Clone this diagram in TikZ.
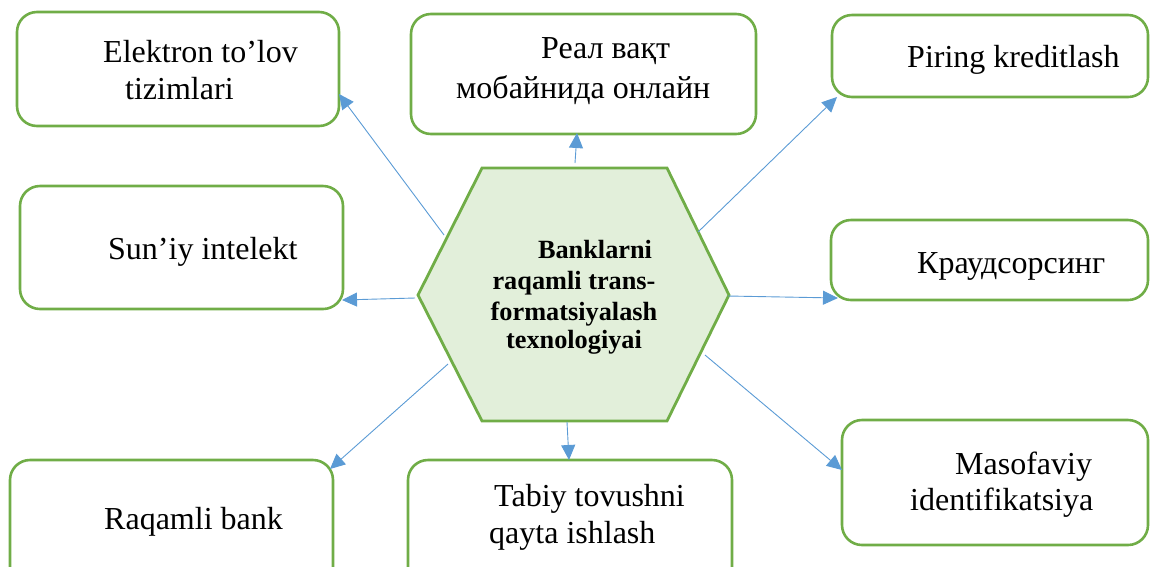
\documentclass[tikz,border=0pt]{standalone}
\usepackage{fontspec}
\setmainfont{Liberation Serif}
\usetikzlibrary{arrows.meta}
\definecolor{boxgreen}{HTML}{70AD47}
\definecolor{hexfill}{HTML}{E2EFDA}
\definecolor{arrblue}{HTML}{5B9BD5}
\tikzset{
  box/.style={draw=boxgreen, line width=2.6pt, rounded corners=20pt},
  hexa/.style={draw=boxgreen, fill=hexfill, line width=2.8pt, line join=miter},
  arr/.style={draw=arrblue, line width=0.9pt, -{Triangle[length=15pt,width=14pt]}},
  lbl/.style={anchor=base west, inner sep=0pt, font=\fontsize{32}{38}\selectfont},
  clbl/.style={anchor=base, inner sep=0pt, font=\fontsize{26.3}{30}\selectfont\bfseries},
}
\begin{document}
\begin{tikzpicture}[x=1pt,y=-1pt]
\useasboundingbox (0,0) rectangle (1150,566);
\clip (0,0) rectangle (1150,566);
% boxes
\draw[box] (17,12) rectangle (339,126);
\draw[box] (411,14) rectangle (756,134);
\draw[box] (832,15) rectangle (1148,97);
\draw[box] (20,186) rectangle (343,309);
\draw[box] (831,220) rectangle (1148,300);
\draw[box] (10,460) rectangle (333,590);
\draw[box] (408,460) rectangle (732,590);
\draw[box] (842,420) rectangle (1148,545);
% hexagon
\draw[hexa] (418,295) -- (482,168) -- (667,168) -- (729,295) -- (667,421) -- (482,421) -- cycle;
% texts
\node[lbl] (t1a) at (103,62) {Elektron to’lov};
\node[lbl] (t1b) at (125,99) {tizimlari};
\node[lbl] (t2a) at (541,58) {Реал вақт};
\node[lbl] (t2b) at (456,98) {мобайнида онлайн};
\node[lbl] (t3) at (907,67) {Piring kreditlash};
\node[lbl] (t4) at (108,259) {Sun’iy intelekt};
\node[lbl] (t5) at (917,273) {Краудсорсинг};
\node[lbl] (t6) at (104,529) {Raqamli bank};
\node[lbl] (t7a) at (494,506) {Tabiy tovushni};
\node[lbl] (t7b) at (489,543) {qayta ishlash};
\node[lbl] (t8a) at (955,474) {Masofaviy};
\node[lbl] (t8b) at (910,510) {identifikatsiya};
\node[clbl] (ca) at (595,258) {Banklarni};
\node[clbl] (cb) at (574,289) {raqamli trans-};
\node[clbl] (cc) at (574,320) {formatsiyalash};
\node[clbl] (cd) at (574,348) {texnologiyai};
% connector ends
\coordinate (s1) at (444,235); \coordinate (e1) at (339,94);
\coordinate (s2) at (575,163); \coordinate (e2) at (577,133);
\coordinate (s3) at (698,232); \coordinate (e3) at (837,97);
\coordinate (s4) at (415,298); \coordinate (e4) at (342,300);
\coordinate (s5) at (728,296); \coordinate (e5) at (838,298);
\coordinate (s6) at (448,364); \coordinate (e6) at (330,469);
\coordinate (s7) at (567,422); \coordinate (e7) at (569,460);
\coordinate (s8) at (705,355); \coordinate (e8) at (842,470);
\foreach \i in {1,...,8} { \draw[arr] (s\i) -- (e\i); }
\end{tikzpicture}
\end{document}
